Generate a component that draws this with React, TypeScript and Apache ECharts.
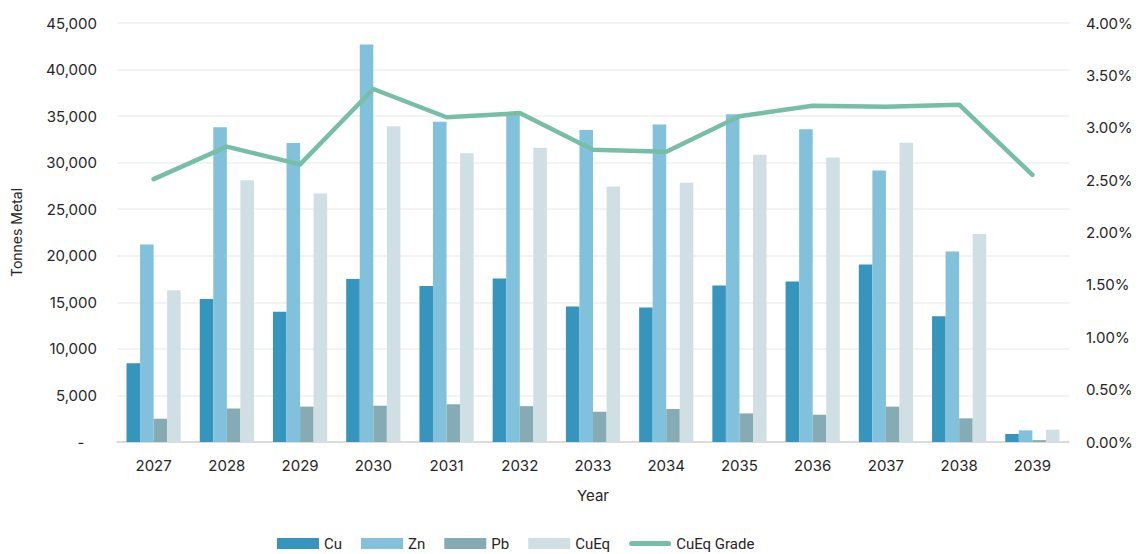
import React, { useEffect, useRef } from "react";
import * as echarts from "echarts";

const years = ["2027", "2028", "2029", "2030", "2031", "2032", "2033", "2034", "2035", "2036", "2037", "2038", "2039"];
const cu = [8450, 15350, 14000, 17500, 16750, 17550, 14550, 14450, 16800, 17250, 19050, 13500, 860];
const zn = [21200, 33800, 32100, 42700, 34400, 35300, 33500, 34100, 35200, 33600, 29150, 20450, 1250];
const pb = [2500, 3600, 3800, 3900, 4050, 3850, 3250, 3550, 3070, 2930, 3800, 2540, 200];
const cuEq = [16300, 28100, 26700, 33900, 31000, 31600, 27450, 27850, 30850, 30550, 32150, 22350, 1320];
const cuEqGrade = [2.51, 2.82, 2.65, 3.37, 3.10, 3.14, 2.79, 2.77, 3.11, 3.21, 3.20, 3.22, 2.55];

const FONT = "Inter, 'Noto Sans', sans-serif";
const TEXT = "#262626";
const LINE_ICON = "path://M2.5,0 H39.5 A2.5,2.5 0 0 1 39.5,5 H2.5 A2.5,2.5 0 0 1 2.5,0 Z";

export default function App() {
  const ref = useRef<HTMLDivElement>(null);
  useEffect(() => {
    document.body.style.margin = "0";
    const chart = echarts.init(ref.current!, null, { renderer: "svg" });
    const barBase = { type: "bar", barGap: "0%", barCategoryGap: "26%", yAxisIndex: 0 };
    chart.setOption({
      animation: false,
      textStyle: { fontFamily: FONT },
      grid: { left: 117, right: 76, top: 23, bottom: 112 },
      legend: {
        top: 531,
        left: 272,
        padding: 5,
        itemWidth: 42,
        itemHeight: 11,
        itemGap: 19,
        textStyle: { fontSize: 15, color: TEXT, fontFamily: "Roboto, sans-serif" },
        data: [
          { name: "Cu", icon: "rect" },
          { name: "Zn", icon: "rect" },
          { name: "Pb", icon: "rect" },
          { name: "CuEq", icon: "rect" },
          { name: "CuEq Grade", icon: LINE_ICON },
        ],
      },
      xAxis: {
        type: "category",
        data: years,
        name: "Year",
        nameLocation: "middle",
        nameGap: 46,
        nameTextStyle: { fontSize: 15, color: TEXT },
        axisLine: { lineStyle: { color: "#d4d4d4", width: 1.5 } },
        axisTick: { show: false },
        axisLabel: { fontSize: 15, color: TEXT, margin: 16 },
      },
      yAxis: [
        {
          type: "value",
          min: 0,
          max: 45000,
          interval: 5000,
          name: "Tonnes Metal",
          nameLocation: "middle",
          nameGap: 94,
          nameTextStyle: { fontSize: 14, color: TEXT },
          axisLine: { show: false },
          axisTick: { show: false },
          splitLine: { lineStyle: { color: "#efefef", width: 1.5 } },
          axisLabel: {
            fontSize: 15,
            color: TEXT,
            margin: 20,
            formatter: (v: number) => (v === 0 ? "-   " : v.toLocaleString("en-US")),
          },
        },
        {
          type: "value",
          min: 0,
          max: 4,
          interval: 0.5,
          position: "right",
          axisLine: { show: false },
          axisTick: { show: false },
          splitLine: { show: false },
          axisLabel: {
            fontSize: 15,
            color: TEXT,
            margin: 17,
            formatter: (v: number) => v.toFixed(2) + "%",
          },
        },
      ],
      series: [
        { ...barBase, name: "Cu", data: cu, itemStyle: { color: "#3595bc" } },
        { ...barBase, name: "Zn", data: zn, itemStyle: { color: "#82c1db" } },
        { ...barBase, name: "Pb", data: pb, itemStyle: { color: "#86abb5" } },
        { ...barBase, name: "CuEq", data: cuEq, itemStyle: { color: "#d0dfe4" } },
        {
          type: "line",
          name: "CuEq Grade",
          yAxisIndex: 1,
          data: cuEqGrade,
          symbol: "none",
          lineStyle: { color: "#76bfa6", width: 4.5, cap: "round", join: "round" },
          itemStyle: { color: "#76bfa6" },
        },
      ],
    });
    return () => chart.dispose();
  }, []);
  return <div ref={ref} style={{ width: 1145, height: 554 }} />;
}
